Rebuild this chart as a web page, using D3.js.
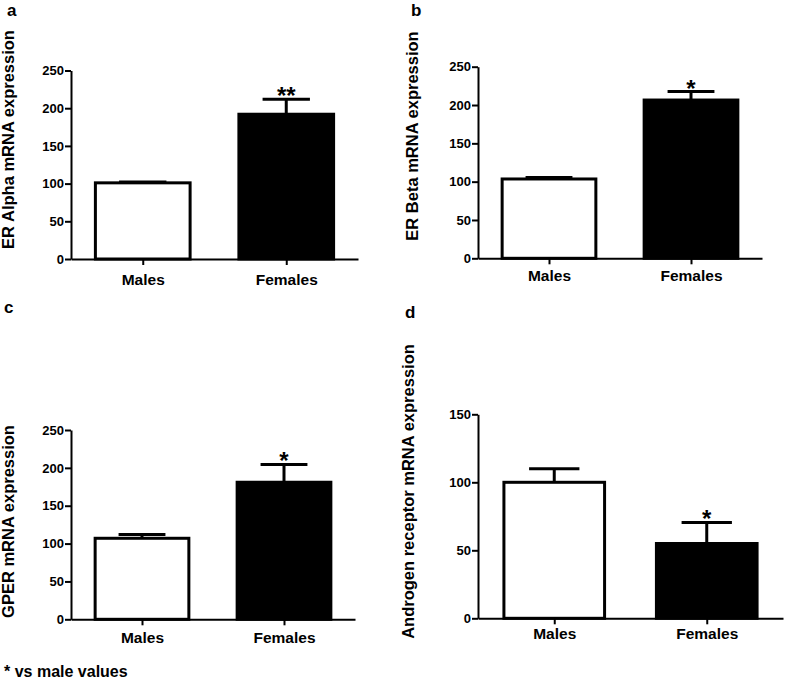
<!DOCTYPE html>
<html>
<head>
<meta charset="utf-8">
<script src="https://cdn.jsdelivr.net/npm/d3@7"></script>
<style>
  html, body { margin: 0; padding: 0; background: #fff; }
  svg { display: block; font-family: "Liberation Sans", Arial, Helvetica, sans-serif; font-weight: bold; }
</style>
</head>
<body>
<svg id="chart" width="787" height="679"></svg>
<script>
// ---------------- data ----------------
const categories = ["Males", "Females"];

const erAlphaMean = [101, 192];
const erAlphaSem  = [1, 20];
const erAlphaSig  = ["", "**"];

const erBetaMean = [103.5, 206.5];
const erBetaSem  = [2, 11];
const erBetaSig  = ["", "*"];

const gperMean = [107, 181];
const gperSem  = [5, 23.5];
const gperSig  = ["", "*"];

const arMean = [100, 55];
const arSem  = [10, 15.5];
const arSig  = ["", "*"];

const ticks250 = [0, 50, 100, 150, 200, 250];
const ticks150 = [0, 50, 100, 150];

const panelLetters = ["a", "b", "c", "d"];
const yLabels = [
  "ER Alpha mRNA expression",
  "ER Beta mRNA expression",
  "GPER mRNA expression",
  "Androgen receptor mRNA expression"
];
const footnote = "* vs male values";

// ---------------- layout (positions only) ----------------
const layout = [
  { x0: 71,  x1: 358, yTop: 70.5,  yBot: 259,   letter: [7, 15.5],  ylab: [14, 139.5],  catY: 285 },
  { x0: 478, x1: 762, yTop: 66.7,  yBot: 258.3, letter: [411, 16],  ylab: [418, 136],   catY: 281 },
  { x0: 71,  x1: 355, yTop: 430,   yBot: 619.3, letter: [4, 313],   ylab: [13.5, 521.5], catY: 643 },
  { x0: 478, x1: 783, yTop: 414.3, yBot: 618.3, letter: [405, 318], ylab: [414, 491.5], catY: 639 }
];

const panels = [
  { mean: erAlphaMean, sem: erAlphaSem, sig: erAlphaSig, ticks: ticks250 },
  { mean: erBetaMean,  sem: erBetaSem,  sig: erBetaSig,  ticks: ticks250 },
  { mean: gperMean,    sem: gperSem,    sig: gperSig,    ticks: ticks250 },
  { mean: arMean,      sem: arSem,      sig: arSig,      ticks: ticks150 }
];

const fills = ["#ffffff", "#000000"];
const svg = d3.select("#chart");

panels.forEach((p, i) => {
  const L = layout[i];
  const g = svg.append("g");

  const x = d3.scalePoint().domain(categories).range([L.x0, L.x1]).padding(0.5);
  const y = d3.scaleLinear().domain([0, d3.max(p.ticks)]).range([L.yBot, L.yTop]);
  const step = x.step();
  const barW = step * 0.66;
  const capW = barW / 2;

  // bars
  g.selectAll("rect.bar").data(categories).join("rect")
    .attr("class", "bar")
    .attr("x", d => x(d) - barW / 2)
    .attr("width", barW)
    .attr("y", (d, k) => y(p.mean[k]))
    .attr("height", (d, k) => y(0) - y(p.mean[k]))
    .attr("fill", (d, k) => fills[k])
    .attr("stroke", "#000")
    .attr("stroke-width", 3);

  // error bars (upper only)
  g.selectAll("line.err").data(categories).join("line")
    .attr("class", "err")
    .attr("x1", d => x(d)).attr("x2", d => x(d))
    .attr("y1", (d, k) => y(p.mean[k]))
    .attr("y2", (d, k) => y(p.mean[k] + p.sem[k]))
    .attr("stroke", "#000").attr("stroke-width", 3);
  g.selectAll("line.cap").data(categories).join("line")
    .attr("class", "cap")
    .attr("x1", d => x(d) - capW / 2).attr("x2", d => x(d) + capW / 2)
    .attr("y1", (d, k) => y(p.mean[k] + p.sem[k]))
    .attr("y2", (d, k) => y(p.mean[k] + p.sem[k]))
    .attr("stroke", "#000").attr("stroke-width", 3);

  // significance
  g.selectAll("text.sig").data(categories).join("text")
    .attr("class", "sig")
    .attr("x", d => x(d))
    .attr("y", (d, k) => y(p.mean[k] + p.sem[k]) + 5)
    .attr("text-anchor", "middle")
    .attr("font-size", 24)
    .text((d, k) => p.sig[k]);

  // y axis
  const ya = g.append("g")
    .attr("transform", `translate(${L.x0},0)`)
    .call(d3.axisLeft(y).tickValues(p.ticks).tickSize(6).tickSizeOuter(0).tickPadding(1));
  ya.select(".domain").attr("stroke-width", 2);
  ya.selectAll(".tick line").attr("stroke-width", 2);
  ya.selectAll(".tick text").attr("font-size", 13).attr("font-family", null).attr("fill", "#000");

  // x axis
  const xa = g.append("g")
    .attr("transform", `translate(0,${L.yBot})`)
    .call(d3.axisBottom(x).tickSize(6).tickSizeOuter(0));
  xa.select(".domain").attr("stroke-width", 2);
  xa.selectAll(".tick line").attr("stroke-width", 2);
  xa.selectAll(".tick text")
    .attr("font-size", 15.5).attr("font-family", null).attr("fill", "#000")
    .attr("dy", null).attr("y", L.catY - L.yBot);

  // y label
  svg.append("text")
    .attr("transform", `translate(${L.ylab[0]},${L.ylab[1]}) rotate(-90)`)
    .attr("text-anchor", "middle")
    .attr("font-size", 16.5)
    .text(yLabels[i]);

  // panel letter
  svg.append("text")
    .attr("x", L.letter[0]).attr("y", L.letter[1])
    .attr("font-size", 17)
    .text(panelLetters[i]);
});

svg.append("text")
  .attr("x", 4).attr("y", 677)
  .attr("font-size", 16)
  .text(footnote);
</script>
</body>
</html>
